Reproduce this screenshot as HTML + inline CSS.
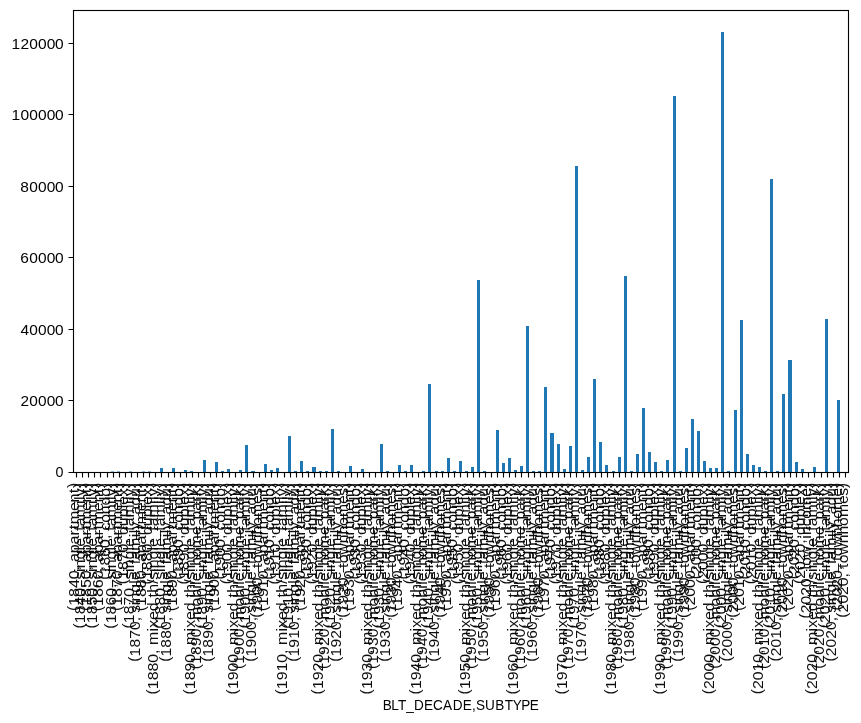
<!DOCTYPE html>
<html lang="en"><head><meta charset="utf-8"><title>BLT_DECADE,SUBTYPE bar chart</title>
<style>html,body{margin:0;padding:0;background:#fff}body{width:861px;height:723px;overflow:hidden}svg{display:block;opacity:0.999;will-change:transform}text{font-family:"Liberation Sans",sans-serif;font-size:14.60px;fill:#000;}.p{font-size:14px}</style></head><body>
<svg width="861" height="723" viewBox="0 0 861 723">
<rect x="0" y="0" width="861" height="723" fill="#fff"/>
<g fill="#1f77b4" shape-rendering="crispEdges">
<rect x="111" y="471" width="3" height="1" fill-opacity="0.5"/>
<rect x="117" y="471" width="3" height="1" fill-opacity="0.5"/>
<rect x="129" y="471" width="3" height="1" fill-opacity="0.5"/>
<rect x="142" y="471" width="3" height="1" fill-opacity="0.5"/>
<rect x="148" y="471" width="3" height="1" fill-opacity="0.5"/>
<rect x="160" y="468" width="3" height="4"/>
<rect x="172" y="468" width="3" height="4"/>
<rect x="184" y="470" width="3" height="2"/>
<rect x="190" y="471" width="3" height="1"/>
<rect x="203" y="460" width="3" height="12"/>
<rect x="215" y="462" width="3" height="10"/>
<rect x="221" y="471" width="3" height="1"/>
<rect x="227" y="469" width="3" height="3"/>
<rect x="239" y="470" width="3" height="2"/>
<rect x="245" y="445" width="3" height="27"/>
<rect x="251" y="471" width="4" height="1"/>
<rect x="264" y="464" width="3" height="8"/>
<rect x="270" y="470" width="3" height="2"/>
<rect x="276" y="468" width="3" height="4"/>
<rect x="288" y="436" width="3" height="36"/>
<rect x="294" y="471" width="3" height="1"/>
<rect x="300" y="461" width="3" height="11"/>
<rect x="306" y="471" width="3" height="1"/>
<rect x="312" y="467" width="4" height="5"/>
<rect x="319" y="471" width="3" height="1"/>
<rect x="325" y="471" width="3" height="1"/>
<rect x="331" y="429" width="3" height="43"/>
<rect x="337" y="471" width="3" height="1"/>
<rect x="349" y="466" width="3" height="6"/>
<rect x="361" y="469" width="3" height="3"/>
<rect x="380" y="444" width="3" height="28"/>
<rect x="386" y="471" width="3" height="1"/>
<rect x="398" y="465" width="3" height="7"/>
<rect x="404" y="471" width="3" height="1"/>
<rect x="410" y="465" width="3" height="7"/>
<rect x="422" y="471" width="3" height="1"/>
<rect x="428" y="384" width="3" height="88"/>
<rect x="435" y="471" width="3" height="1"/>
<rect x="441" y="471" width="3" height="1"/>
<rect x="447" y="458" width="3" height="14"/>
<rect x="453" y="471" width="3" height="1"/>
<rect x="459" y="461" width="3" height="11"/>
<rect x="465" y="471" width="3" height="1"/>
<rect x="471" y="467" width="3" height="5"/>
<rect x="477" y="280" width="3" height="192"/>
<rect x="483" y="471" width="3" height="1"/>
<rect x="496" y="430" width="3" height="42"/>
<rect x="502" y="463" width="3" height="9"/>
<rect x="508" y="458" width="3" height="14"/>
<rect x="514" y="470" width="3" height="2"/>
<rect x="520" y="466" width="3" height="6"/>
<rect x="526" y="326" width="3" height="146"/>
<rect x="532" y="471" width="3" height="1"/>
<rect x="538" y="471" width="3" height="1"/>
<rect x="544" y="387" width="3" height="85"/>
<rect x="550" y="433" width="4" height="39"/>
<rect x="557" y="444" width="3" height="28"/>
<rect x="563" y="469" width="3" height="3"/>
<rect x="569" y="446" width="3" height="26"/>
<rect x="575" y="166" width="3" height="306"/>
<rect x="581" y="470" width="3" height="2"/>
<rect x="587" y="457" width="3" height="15"/>
<rect x="593" y="379" width="3" height="93"/>
<rect x="599" y="442" width="3" height="30"/>
<rect x="605" y="465" width="3" height="7"/>
<rect x="612" y="471" width="3" height="1"/>
<rect x="618" y="457" width="3" height="15"/>
<rect x="624" y="276" width="3" height="196"/>
<rect x="630" y="471" width="3" height="1"/>
<rect x="636" y="454" width="3" height="18"/>
<rect x="642" y="408" width="3" height="64"/>
<rect x="648" y="452" width="3" height="20"/>
<rect x="654" y="462" width="3" height="10"/>
<rect x="660" y="471" width="3" height="1"/>
<rect x="666" y="460" width="3" height="12"/>
<rect x="673" y="96" width="3" height="376"/>
<rect x="679" y="471" width="3" height="1"/>
<rect x="685" y="448" width="3" height="24"/>
<rect x="691" y="419" width="3" height="53"/>
<rect x="697" y="431" width="3" height="41"/>
<rect x="703" y="461" width="3" height="11"/>
<rect x="709" y="468" width="3" height="4"/>
<rect x="715" y="468" width="3" height="4"/>
<rect x="721" y="32" width="3" height="440"/>
<rect x="727" y="471" width="3" height="1"/>
<rect x="734" y="410" width="3" height="62"/>
<rect x="740" y="320" width="3" height="152"/>
<rect x="746" y="454" width="3" height="18"/>
<rect x="752" y="465" width="3" height="7"/>
<rect x="758" y="467" width="3" height="5"/>
<rect x="764" y="471" width="3" height="1"/>
<rect x="770" y="179" width="3" height="293"/>
<rect x="776" y="471" width="3" height="1"/>
<rect x="782" y="394" width="3" height="78"/>
<rect x="788" y="360" width="4" height="112"/>
<rect x="795" y="462" width="3" height="10"/>
<rect x="801" y="469" width="3" height="3"/>
<rect x="813" y="467" width="3" height="5"/>
<rect x="825" y="319" width="3" height="153"/>
<rect x="837" y="400" width="3" height="72"/>
</g>
<g stroke="#000" stroke-width="1.11" fill="none">
<path d="M76.5 472.5V477.5M82.5 472.5V477.5M88.5 472.5V477.5M94.5 472.5V477.5M100.5 472.5V477.5M107.5 472.5V477.5M113.5 472.5V477.5M119.5 472.5V477.5M125.5 472.5V477.5M131.5 472.5V477.5M137.5 472.5V477.5M143.5 472.5V477.5M149.5 472.5V477.5M155.5 472.5V477.5M161.5 472.5V477.5M168.5 472.5V477.5M174.5 472.5V477.5M180.5 472.5V477.5M186.5 472.5V477.5M192.5 472.5V477.5M198.5 472.5V477.5M204.5 472.5V477.5M210.5 472.5V477.5M216.5 472.5V477.5M222.5 472.5V477.5M229.5 472.5V477.5M235.5 472.5V477.5M241.5 472.5V477.5M247.5 472.5V477.5M253.5 472.5V477.5M259.5 472.5V477.5M265.5 472.5V477.5M271.5 472.5V477.5M277.5 472.5V477.5M284.5 472.5V477.5M290.5 472.5V477.5M296.5 472.5V477.5M302.5 472.5V477.5M308.5 472.5V477.5M314.5 472.5V477.5M320.5 472.5V477.5M326.5 472.5V477.5M332.5 472.5V477.5M338.5 472.5V477.5M345.5 472.5V477.5M351.5 472.5V477.5M357.5 472.5V477.5M363.5 472.5V477.5M369.5 472.5V477.5M375.5 472.5V477.5M381.5 472.5V477.5M387.5 472.5V477.5M393.5 472.5V477.5M399.5 472.5V477.5M406.5 472.5V477.5M412.5 472.5V477.5M418.5 472.5V477.5M424.5 472.5V477.5M430.5 472.5V477.5M436.5 472.5V477.5M442.5 472.5V477.5M448.5 472.5V477.5M454.5 472.5V477.5M460.5 472.5V477.5M467.5 472.5V477.5M473.5 472.5V477.5M479.5 472.5V477.5M485.5 472.5V477.5M491.5 472.5V477.5M497.5 472.5V477.5M503.5 472.5V477.5M509.5 472.5V477.5M515.5 472.5V477.5M521.5 472.5V477.5M528.5 472.5V477.5M534.5 472.5V477.5M540.5 472.5V477.5M546.5 472.5V477.5M552.5 472.5V477.5M558.5 472.5V477.5M564.5 472.5V477.5M570.5 472.5V477.5M576.5 472.5V477.5M583.5 472.5V477.5M589.5 472.5V477.5M595.5 472.5V477.5M601.5 472.5V477.5M607.5 472.5V477.5M613.5 472.5V477.5M619.5 472.5V477.5M625.5 472.5V477.5M631.5 472.5V477.5M637.5 472.5V477.5M644.5 472.5V477.5M650.5 472.5V477.5M656.5 472.5V477.5M662.5 472.5V477.5M668.5 472.5V477.5M674.5 472.5V477.5M680.5 472.5V477.5M686.5 472.5V477.5M692.5 472.5V477.5M698.5 472.5V477.5M705.5 472.5V477.5M711.5 472.5V477.5M717.5 472.5V477.5M723.5 472.5V477.5M729.5 472.5V477.5M735.5 472.5V477.5M741.5 472.5V477.5M747.5 472.5V477.5M753.5 472.5V477.5M759.5 472.5V477.5M766.5 472.5V477.5M772.5 472.5V477.5M778.5 472.5V477.5M784.5 472.5V477.5M790.5 472.5V477.5M796.5 472.5V477.5M802.5 472.5V477.5M808.5 472.5V477.5M814.5 472.5V477.5M821.5 472.5V477.5M827.5 472.5V477.5M833.5 472.5V477.5M839.5 472.5V477.5M845.5 472.5V477.5"/>
<path d="M73.5 472.5H68.5M73.5 400.5H68.5M73.5 329.5H68.5M73.5 257.5H68.5M73.5 186.5H68.5M73.5 114.5H68.5M73.5 43.5H68.5"/>
<rect x="73.5" y="10.5" width="775.0" height="462.0"/>
</g>
<g>
<text transform="translate(55.38,477.00) scale(0.979,1)" x="0.00">0</text>
<text transform="translate(20.38,406.00) scale(1.058,1)" x="0.08 8.35 16.62 24.89 32.78">20000</text>
<text transform="translate(20.38,335.00) scale(1.058,1)" x="0.08 8.35 16.62 24.89 32.78">40000</text>
<text transform="translate(20.25,263.00) scale(1.061,1)" x="0.12 8.43 16.68 24.92 32.79">60000</text>
<text transform="translate(20.25,192.00) scale(1.061,1)" x="0.12 8.43 16.68 24.92 32.79">80000</text>
<text transform="translate(11.50,120.00) scale(1.064,1)" x="0.11 8.40 16.62 24.85 33.07 40.92">100000</text>
<text transform="translate(11.50,49.00) scale(1.064,1)" x="0.11 8.40 16.62 24.85 33.07 40.92">120000</text>
</g>
<g fill-opacity="0.94">
<text transform="translate(79.00,611.22) rotate(-90) scale(1.107,1.000)" x="0.15 4.91 12.93 20.89 28.79 36.75 40.70 44.54 52.44 60.34 68.46 73.95 78.47 90.43 98.22 106.69 111.29"><tspan class="p" dy="-1.10">(</tspan><tspan dy="1.10">1840, apartment</tspan><tspan class="p" dy="-1.10">)</tspan></text>
<text transform="translate(85.00,628.72) rotate(-90) scale(1.084,1.000)" x="0.21 5.11 13.30 21.43 29.50 37.59 41.62 45.31 52.41 55.80 63.93 72.25 75.52 82.67 90.24 94.49 102.68 115.15 118.73 122.29 129.90"><tspan class="p" dy="-1.10">(</tspan><tspan dy="1.10">1840, single_family</tspan><tspan class="p" dy="-1.10">)</tspan></text>
<text transform="translate(91.00,611.22) rotate(-90) scale(1.107,1.000)" x="0.15 4.91 12.93 20.89 28.79 36.75 40.70 44.54 52.44 60.34 68.46 73.95 78.47 90.43 98.22 106.69 111.29"><tspan class="p" dy="-1.10">(</tspan><tspan dy="1.10">1850, apartment</tspan><tspan class="p" dy="-1.10">)</tspan></text>
<text transform="translate(97.00,628.72) rotate(-90) scale(1.084,1.000)" x="0.21 5.11 13.30 21.43 29.50 37.59 41.62 45.31 52.41 55.80 63.93 72.25 75.52 82.67 90.24 94.49 102.68 115.15 118.73 122.29 129.90"><tspan class="p" dy="-1.10">(</tspan><tspan dy="1.10">1850, single_family</tspan><tspan class="p" dy="-1.10">)</tspan></text>
<text transform="translate(103.00,611.35) rotate(-90) scale(1.108,1.000)" x="0.15 4.91 12.91 20.92 28.87 36.82 40.77 44.61 52.50 60.39 68.51 73.99 78.50 90.45 98.23 106.69 111.30"><tspan class="p" dy="-1.10">(</tspan><tspan dy="1.10">1860, apartment</tspan><tspan class="p" dy="-1.10">)</tspan></text>
<text transform="translate(110.00,579.97) rotate(-90) scale(1.079,1.000)" x="0.22 5.15 13.37 21.59 29.75 37.87 41.92 45.86 52.92 60.91 69.07 77.12 85.27"><tspan class="p" dy="-1.10">(</tspan><tspan dy="1.10">1860, condo</tspan><tspan class="p" dy="-1.10">)</tspan></text>
<text transform="translate(116.00,628.85) rotate(-90) scale(1.085,1.000)" x="0.20 5.10 13.28 21.46 29.59 37.67 41.70 45.38 52.48 55.86 63.99 72.30 75.57 82.71 90.27 94.52 102.70 115.17 118.74 122.30 129.90"><tspan class="p" dy="-1.10">(</tspan><tspan dy="1.10">1860, single_family</tspan><tspan class="p" dy="-1.10">)</tspan></text>
<text transform="translate(122.00,611.22) rotate(-90) scale(1.107,1.000)" x="0.15 4.91 12.93 20.89 28.79 36.75 40.70 44.54 52.44 60.34 68.46 73.95 78.47 90.43 98.22 106.69 111.29"><tspan class="p" dy="-1.10">(</tspan><tspan dy="1.10">1870, apartment</tspan><tspan class="p" dy="-1.10">)</tspan></text>
<text transform="translate(128.00,584.47) rotate(-90) scale(1.090,1.000)" x="0.19 5.06 13.20 21.28 29.31 37.36 41.37 45.42 53.50 61.59 69.87 73.00 80.97 88.54"><tspan class="p" dy="-1.10">(</tspan><tspan dy="1.10">1870, duplex</tspan><tspan class="p" dy="-1.10">)</tspan></text>
<text transform="translate(134.00,628.72) rotate(-90) scale(1.084,1.000)" x="0.21 5.11 13.30 21.43 29.50 37.59 41.62 45.31 52.41 55.80 63.93 72.25 75.52 82.67 90.24 94.49 102.68 115.15 118.73 122.29 129.90"><tspan class="p" dy="-1.10">(</tspan><tspan dy="1.10">1870, single_family</tspan><tspan class="p" dy="-1.10">)</tspan></text>
<text transform="translate(140.00,661.97) rotate(-90) scale(1.072,1.000)" x="0.23 5.21 13.49 21.71 29.87 38.02 42.10 45.84 53.00 56.45 64.67 73.05 76.39 83.61 91.24 95.56 103.86 116.42 120.04 123.66 130.37 137.65 145.81 154.03 162.35"><tspan class="p" dy="-1.10">(</tspan><tspan dy="1.10">1870, single_family_adu</tspan><tspan class="p" dy="-1.10">)</tspan></text>
<text transform="translate(146.00,611.35) rotate(-90) scale(1.108,1.000)" x="0.15 4.91 12.91 20.92 28.87 36.82 40.77 44.61 52.50 60.39 68.51 73.99 78.50 90.45 98.23 106.69 111.30"><tspan class="p" dy="-1.10">(</tspan><tspan dy="1.10">1880, apartment</tspan><tspan class="p" dy="-1.10">)</tspan></text>
<text transform="translate(152.00,584.60) rotate(-90) scale(1.091,1.000)" x="0.19 5.04 13.18 21.31 29.38 37.43 41.43 45.47 53.55 61.62 69.90 73.02 80.98 88.55"><tspan class="p" dy="-1.10">(</tspan><tspan dy="1.10">1880, duplex</tspan><tspan class="p" dy="-1.10">)</tspan></text>
<text transform="translate(158.00,694.72) rotate(-90) scale(1.093,1.000)" x="0.18 5.03 13.15 21.27 29.33 37.37 41.37 45.49 57.90 61.25 68.33 76.27 84.37 88.88 93.37 101.52 105.27 112.33 115.67 123.73 132.00 135.22 142.31 149.83 154.03 162.13 174.54 178.08 181.60 189.15"><tspan class="p" dy="-1.10">(</tspan><tspan dy="1.10">1880, mixed th/single_family</tspan><tspan class="p" dy="-1.10">)</tspan></text>
<text transform="translate(165.00,628.85) rotate(-90) scale(1.085,1.000)" x="0.20 5.10 13.28 21.46 29.59 37.67 41.70 45.38 52.48 55.86 63.99 72.30 75.57 82.71 90.27 94.52 102.70 115.17 118.74 122.30 129.90"><tspan class="p" dy="-1.10">(</tspan><tspan dy="1.10">1880, single_family</tspan><tspan class="p" dy="-1.10">)</tspan></text>
<text transform="translate(171.00,662.10) rotate(-90) scale(1.073,1.000)" x="0.23 5.20 13.47 21.75 29.96 38.11 42.19 45.92 53.08 56.52 64.74 73.12 76.45 83.67 91.29 95.61 103.90 116.46 120.07 123.69 130.39 137.67 145.83 154.04 162.35"><tspan class="p" dy="-1.10">(</tspan><tspan dy="1.10">1880, single_family_adu</tspan><tspan class="p" dy="-1.10">)</tspan></text>
<text transform="translate(177.00,611.35) rotate(-90) scale(1.108,1.000)" x="0.15 4.91 12.91 20.92 28.87 36.82 40.77 44.61 52.50 60.39 68.51 73.99 78.50 90.45 98.23 106.69 111.30"><tspan class="p" dy="-1.10">(</tspan><tspan dy="1.10">1890, apartment</tspan><tspan class="p" dy="-1.10">)</tspan></text>
<text transform="translate(183.00,579.97) rotate(-90) scale(1.079,1.000)" x="0.22 5.15 13.37 21.59 29.75 37.87 41.92 45.86 52.92 60.91 69.07 77.12 85.27"><tspan class="p" dy="-1.10">(</tspan><tspan dy="1.10">1890, condo</tspan><tspan class="p" dy="-1.10">)</tspan></text>
<text transform="translate(189.00,584.60) rotate(-90) scale(1.091,1.000)" x="0.19 5.04 13.18 21.31 29.38 37.43 41.43 45.47 53.55 61.62 69.90 73.02 80.98 88.55"><tspan class="p" dy="-1.10">(</tspan><tspan dy="1.10">1890, duplex</tspan><tspan class="p" dy="-1.10">)</tspan></text>
<text transform="translate(195.00,694.72) rotate(-90) scale(1.093,1.000)" x="0.18 5.03 13.15 21.27 29.33 37.37 41.37 45.49 57.90 61.25 68.33 76.27 84.37 88.88 93.37 101.52 105.27 112.33 115.67 123.73 132.00 135.22 142.31 149.83 154.03 162.13 174.54 178.08 181.60 189.15"><tspan class="p" dy="-1.10">(</tspan><tspan dy="1.10">1890, mixed th/single_family</tspan><tspan class="p" dy="-1.10">)</tspan></text>
<text transform="translate(201.00,669.47) rotate(-90) scale(1.070,1.000)" x="0.24 5.23 13.52 21.81 30.04 38.21 42.29 46.59 58.89 67.01 75.40 79.02 82.37 89.61 96.97 105.02 113.28 125.58 132.82 140.24 148.41 156.76 162.02 169.65"><tspan class="p" dy="-1.10">(</tspan><tspan dy="1.10">1890, mobile_home_park</tspan><tspan class="p" dy="-1.10">)</tspan></text>
<text transform="translate(207.00,628.85) rotate(-90) scale(1.085,1.000)" x="0.20 5.10 13.28 21.46 29.59 37.67 41.70 45.38 52.48 55.86 63.99 72.30 75.57 82.71 90.27 94.52 102.70 115.17 118.74 122.30 129.90"><tspan class="p" dy="-1.10">(</tspan><tspan dy="1.10">1890, single_family</tspan><tspan class="p" dy="-1.10">)</tspan></text>
<text transform="translate(213.00,662.10) rotate(-90) scale(1.073,1.000)" x="0.23 5.20 13.47 21.75 29.96 38.11 42.19 45.92 53.08 56.52 64.74 73.12 76.45 83.67 91.29 95.61 103.90 116.46 120.07 123.69 130.39 137.67 145.83 154.04 162.35"><tspan class="p" dy="-1.10">(</tspan><tspan dy="1.10">1890, single_family_adu</tspan><tspan class="p" dy="-1.10">)</tspan></text>
<text transform="translate(219.00,611.22) rotate(-90) scale(1.107,1.000)" x="0.15 4.91 12.93 20.89 28.79 36.75 40.70 44.54 52.44 60.34 68.46 73.95 78.47 90.43 98.22 106.69 111.29"><tspan class="p" dy="-1.10">(</tspan><tspan dy="1.10">1900, apartment</tspan><tspan class="p" dy="-1.10">)</tspan></text>
<text transform="translate(225.00,579.85) rotate(-90) scale(1.078,1.000)" x="0.22 5.16 13.39 21.57 29.68 37.80 41.86 45.80 52.87 60.87 69.05 77.11 85.27"><tspan class="p" dy="-1.10">(</tspan><tspan dy="1.10">1900, condo</tspan><tspan class="p" dy="-1.10">)</tspan></text>
<text transform="translate(232.00,584.47) rotate(-90) scale(1.090,1.000)" x="0.19 5.06 13.20 21.28 29.31 37.36 41.37 45.42 53.50 61.59 69.87 73.00 80.97 88.54"><tspan class="p" dy="-1.10">(</tspan><tspan dy="1.10">1900, duplex</tspan><tspan class="p" dy="-1.10">)</tspan></text>
<text transform="translate(238.00,694.60) rotate(-90) scale(1.092,1.000)" x="0.19 5.04 13.16 21.23 29.24 37.28 41.28 45.41 57.82 61.17 68.25 76.21 84.30 88.82 93.31 101.46 105.22 112.28 115.62 123.69 131.96 135.19 142.28 149.81 154.01 162.12 174.53 178.07 181.60 189.15"><tspan class="p" dy="-1.10">(</tspan><tspan dy="1.10">1900, mixed th/single_family</tspan><tspan class="p" dy="-1.10">)</tspan></text>
<text transform="translate(244.00,669.35) rotate(-90) scale(1.070,1.000)" x="0.24 5.23 13.53 21.77 29.95 38.12 42.21 46.51 58.82 66.94 75.34 78.96 82.31 89.55 96.92 104.98 113.24 125.55 132.80 140.22 148.40 156.75 162.01 169.64"><tspan class="p" dy="-1.10">(</tspan><tspan dy="1.10">1900, mobile_home_park</tspan><tspan class="p" dy="-1.10">)</tspan></text>
<text transform="translate(250.00,628.72) rotate(-90) scale(1.084,1.000)" x="0.21 5.11 13.30 21.43 29.50 37.59 41.62 45.31 52.41 55.80 63.93 72.25 75.52 82.67 90.24 94.49 102.68 115.15 118.73 122.29 129.90"><tspan class="p" dy="-1.10">(</tspan><tspan dy="1.10">1900, single_family</tspan><tspan class="p" dy="-1.10">)</tspan></text>
<text transform="translate(256.00,661.97) rotate(-90) scale(1.072,1.000)" x="0.23 5.21 13.49 21.71 29.87 38.02 42.10 45.84 53.00 56.45 64.67 73.05 76.39 83.61 91.24 95.56 103.86 116.42 120.04 123.66 130.37 137.65 145.81 154.03 162.35"><tspan class="p" dy="-1.10">(</tspan><tspan dy="1.10">1900, single_family_adu</tspan><tspan class="p" dy="-1.10">)</tspan></text>
<text transform="translate(262.00,618.10) rotate(-90) scale(1.083,1.000)" x="0.21 5.11 13.31 21.44 29.52 37.61 41.65 46.21 50.64 58.60 69.10 77.18 85.14 93.28 105.45 113.08 120.16"><tspan class="p" dy="-1.10">(</tspan><tspan dy="1.10">1900, townhomes</tspan><tspan class="p" dy="-1.10">)</tspan></text>
<text transform="translate(268.00,611.35) rotate(-90) scale(1.108,1.000)" x="0.15 4.91 12.91 20.92 28.87 36.82 40.77 44.61 52.50 60.39 68.51 73.99 78.50 90.45 98.23 106.69 111.30"><tspan class="p" dy="-1.10">(</tspan><tspan dy="1.10">1910, apartment</tspan><tspan class="p" dy="-1.10">)</tspan></text>
<text transform="translate(274.00,579.97) rotate(-90) scale(1.079,1.000)" x="0.22 5.15 13.37 21.59 29.75 37.87 41.92 45.86 52.92 60.91 69.07 77.12 85.27"><tspan class="p" dy="-1.10">(</tspan><tspan dy="1.10">1910, condo</tspan><tspan class="p" dy="-1.10">)</tspan></text>
<text transform="translate(280.00,584.60) rotate(-90) scale(1.091,1.000)" x="0.19 5.04 13.18 21.31 29.38 37.43 41.43 45.47 53.55 61.62 69.90 73.02 80.98 88.55"><tspan class="p" dy="-1.10">(</tspan><tspan dy="1.10">1910, duplex</tspan><tspan class="p" dy="-1.10">)</tspan></text>
<text transform="translate(287.00,694.72) rotate(-90) scale(1.093,1.000)" x="0.18 5.03 13.15 21.27 29.33 37.37 41.37 45.49 57.90 61.25 68.33 76.27 84.37 88.88 93.37 101.52 105.27 112.33 115.67 123.73 132.00 135.22 142.31 149.83 154.03 162.13 174.54 178.08 181.60 189.15"><tspan class="p" dy="-1.10">(</tspan><tspan dy="1.10">1910, mixed th/single_family</tspan><tspan class="p" dy="-1.10">)</tspan></text>
<text transform="translate(293.00,628.85) rotate(-90) scale(1.085,1.000)" x="0.20 5.10 13.28 21.46 29.59 37.67 41.70 45.38 52.48 55.86 63.99 72.30 75.57 82.71 90.27 94.52 102.70 115.17 118.74 122.30 129.90"><tspan class="p" dy="-1.10">(</tspan><tspan dy="1.10">1910, single_family</tspan><tspan class="p" dy="-1.10">)</tspan></text>
<text transform="translate(299.00,662.10) rotate(-90) scale(1.073,1.000)" x="0.23 5.20 13.47 21.75 29.96 38.11 42.19 45.92 53.08 56.52 64.74 73.12 76.45 83.67 91.29 95.61 103.90 116.46 120.07 123.69 130.39 137.67 145.83 154.04 162.35"><tspan class="p" dy="-1.10">(</tspan><tspan dy="1.10">1910, single_family_adu</tspan><tspan class="p" dy="-1.10">)</tspan></text>
<text transform="translate(305.00,611.22) rotate(-90) scale(1.107,1.000)" x="0.15 4.91 12.93 20.89 28.79 36.75 40.70 44.54 52.44 60.34 68.46 73.95 78.47 90.43 98.22 106.69 111.29"><tspan class="p" dy="-1.10">(</tspan><tspan dy="1.10">1920, apartment</tspan><tspan class="p" dy="-1.10">)</tspan></text>
<text transform="translate(311.00,579.85) rotate(-90) scale(1.078,1.000)" x="0.22 5.16 13.39 21.57 29.68 37.80 41.86 45.80 52.87 60.87 69.05 77.11 85.27"><tspan class="p" dy="-1.10">(</tspan><tspan dy="1.10">1920, condo</tspan><tspan class="p" dy="-1.10">)</tspan></text>
<text transform="translate(317.00,584.47) rotate(-90) scale(1.090,1.000)" x="0.19 5.06 13.20 21.28 29.31 37.36 41.37 45.42 53.50 61.59 69.87 73.00 80.97 88.54"><tspan class="p" dy="-1.10">(</tspan><tspan dy="1.10">1920, duplex</tspan><tspan class="p" dy="-1.10">)</tspan></text>
<text transform="translate(323.00,694.60) rotate(-90) scale(1.092,1.000)" x="0.19 5.04 13.16 21.23 29.24 37.28 41.28 45.41 57.82 61.17 68.25 76.21 84.30 88.82 93.31 101.46 105.22 112.28 115.62 123.69 131.96 135.19 142.28 149.81 154.01 162.12 174.53 178.07 181.60 189.15"><tspan class="p" dy="-1.10">(</tspan><tspan dy="1.10">1920, mixed th/single_family</tspan><tspan class="p" dy="-1.10">)</tspan></text>
<text transform="translate(329.00,669.35) rotate(-90) scale(1.070,1.000)" x="0.24 5.23 13.53 21.77 29.95 38.12 42.21 46.51 58.82 66.94 75.34 78.96 82.31 89.55 96.92 104.98 113.24 125.55 132.80 140.22 148.40 156.75 162.01 169.64"><tspan class="p" dy="-1.10">(</tspan><tspan dy="1.10">1920, mobile_home_park</tspan><tspan class="p" dy="-1.10">)</tspan></text>
<text transform="translate(335.00,628.72) rotate(-90) scale(1.084,1.000)" x="0.21 5.11 13.30 21.43 29.50 37.59 41.62 45.31 52.41 55.80 63.93 72.25 75.52 82.67 90.24 94.49 102.68 115.15 118.73 122.29 129.90"><tspan class="p" dy="-1.10">(</tspan><tspan dy="1.10">1920, single_family</tspan><tspan class="p" dy="-1.10">)</tspan></text>
<text transform="translate(341.00,661.97) rotate(-90) scale(1.072,1.000)" x="0.23 5.21 13.49 21.71 29.87 38.02 42.10 45.84 53.00 56.45 64.67 73.05 76.39 83.61 91.24 95.56 103.86 116.42 120.04 123.66 130.37 137.65 145.81 154.03 162.35"><tspan class="p" dy="-1.10">(</tspan><tspan dy="1.10">1920, single_family_adu</tspan><tspan class="p" dy="-1.10">)</tspan></text>
<text transform="translate(348.00,618.10) rotate(-90) scale(1.083,1.000)" x="0.21 5.11 13.31 21.44 29.52 37.61 41.65 46.21 50.64 58.60 69.10 77.18 85.14 93.28 105.45 113.08 120.16"><tspan class="p" dy="-1.10">(</tspan><tspan dy="1.10">1920, townhomes</tspan><tspan class="p" dy="-1.10">)</tspan></text>
<text transform="translate(354.00,611.22) rotate(-90) scale(1.107,1.000)" x="0.15 4.91 12.93 20.89 28.79 36.75 40.70 44.54 52.44 60.34 68.46 73.95 78.47 90.43 98.22 106.69 111.29"><tspan class="p" dy="-1.10">(</tspan><tspan dy="1.10">1930, apartment</tspan><tspan class="p" dy="-1.10">)</tspan></text>
<text transform="translate(360.00,579.85) rotate(-90) scale(1.078,1.000)" x="0.22 5.16 13.39 21.57 29.68 37.80 41.86 45.80 52.87 60.87 69.05 77.11 85.27"><tspan class="p" dy="-1.10">(</tspan><tspan dy="1.10">1930, condo</tspan><tspan class="p" dy="-1.10">)</tspan></text>
<text transform="translate(366.00,584.47) rotate(-90) scale(1.090,1.000)" x="0.19 5.06 13.20 21.28 29.31 37.36 41.37 45.42 53.50 61.59 69.87 73.00 80.97 88.54"><tspan class="p" dy="-1.10">(</tspan><tspan dy="1.10">1930, duplex</tspan><tspan class="p" dy="-1.10">)</tspan></text>
<text transform="translate(372.00,694.60) rotate(-90) scale(1.092,1.000)" x="0.19 5.04 13.16 21.23 29.24 37.28 41.28 45.41 57.82 61.17 68.25 76.21 84.30 88.82 93.31 101.46 105.22 112.28 115.62 123.69 131.96 135.19 142.28 149.81 154.01 162.12 174.53 178.07 181.60 189.15"><tspan class="p" dy="-1.10">(</tspan><tspan dy="1.10">1930, mixed th/single_family</tspan><tspan class="p" dy="-1.10">)</tspan></text>
<text transform="translate(378.00,669.35) rotate(-90) scale(1.070,1.000)" x="0.24 5.23 13.53 21.77 29.95 38.12 42.21 46.51 58.82 66.94 75.34 78.96 82.31 89.55 96.92 104.98 113.24 125.55 132.80 140.22 148.40 156.75 162.01 169.64"><tspan class="p" dy="-1.10">(</tspan><tspan dy="1.10">1930, mobile_home_park</tspan><tspan class="p" dy="-1.10">)</tspan></text>
<text transform="translate(384.00,628.72) rotate(-90) scale(1.084,1.000)" x="0.21 5.11 13.30 21.43 29.50 37.59 41.62 45.31 52.41 55.80 63.93 72.25 75.52 82.67 90.24 94.49 102.68 115.15 118.73 122.29 129.90"><tspan class="p" dy="-1.10">(</tspan><tspan dy="1.10">1930, single_family</tspan><tspan class="p" dy="-1.10">)</tspan></text>
<text transform="translate(390.00,661.97) rotate(-90) scale(1.072,1.000)" x="0.23 5.21 13.49 21.71 29.87 38.02 42.10 45.84 53.00 56.45 64.67 73.05 76.39 83.61 91.24 95.56 103.86 116.42 120.04 123.66 130.37 137.65 145.81 154.03 162.35"><tspan class="p" dy="-1.10">(</tspan><tspan dy="1.10">1930, single_family_adu</tspan><tspan class="p" dy="-1.10">)</tspan></text>
<text transform="translate(396.00,618.10) rotate(-90) scale(1.083,1.000)" x="0.21 5.11 13.31 21.44 29.52 37.61 41.65 46.21 50.64 58.60 69.10 77.18 85.14 93.28 105.45 113.08 120.16"><tspan class="p" dy="-1.10">(</tspan><tspan dy="1.10">1930, townhomes</tspan><tspan class="p" dy="-1.10">)</tspan></text>
<text transform="translate(402.00,611.22) rotate(-90) scale(1.107,1.000)" x="0.15 4.91 12.93 20.89 28.79 36.75 40.70 44.54 52.44 60.34 68.46 73.95 78.47 90.43 98.22 106.69 111.29"><tspan class="p" dy="-1.10">(</tspan><tspan dy="1.10">1940, apartment</tspan><tspan class="p" dy="-1.10">)</tspan></text>
<text transform="translate(409.00,579.85) rotate(-90) scale(1.078,1.000)" x="0.22 5.16 13.39 21.57 29.68 37.80 41.86 45.80 52.87 60.87 69.05 77.11 85.27"><tspan class="p" dy="-1.10">(</tspan><tspan dy="1.10">1940, condo</tspan><tspan class="p" dy="-1.10">)</tspan></text>
<text transform="translate(415.00,584.47) rotate(-90) scale(1.090,1.000)" x="0.19 5.06 13.20 21.28 29.31 37.36 41.37 45.42 53.50 61.59 69.87 73.00 80.97 88.54"><tspan class="p" dy="-1.10">(</tspan><tspan dy="1.10">1940, duplex</tspan><tspan class="p" dy="-1.10">)</tspan></text>
<text transform="translate(421.00,694.60) rotate(-90) scale(1.092,1.000)" x="0.19 5.04 13.16 21.23 29.24 37.28 41.28 45.41 57.82 61.17 68.25 76.21 84.30 88.82 93.31 101.46 105.22 112.28 115.62 123.69 131.96 135.19 142.28 149.81 154.01 162.12 174.53 178.07 181.60 189.15"><tspan class="p" dy="-1.10">(</tspan><tspan dy="1.10">1940, mixed th/single_family</tspan><tspan class="p" dy="-1.10">)</tspan></text>
<text transform="translate(427.00,669.35) rotate(-90) scale(1.070,1.000)" x="0.24 5.23 13.53 21.77 29.95 38.12 42.21 46.51 58.82 66.94 75.34 78.96 82.31 89.55 96.92 104.98 113.24 125.55 132.80 140.22 148.40 156.75 162.01 169.64"><tspan class="p" dy="-1.10">(</tspan><tspan dy="1.10">1940, mobile_home_park</tspan><tspan class="p" dy="-1.10">)</tspan></text>
<text transform="translate(433.00,628.72) rotate(-90) scale(1.084,1.000)" x="0.21 5.11 13.30 21.43 29.50 37.59 41.62 45.31 52.41 55.80 63.93 72.25 75.52 82.67 90.24 94.49 102.68 115.15 118.73 122.29 129.90"><tspan class="p" dy="-1.10">(</tspan><tspan dy="1.10">1940, single_family</tspan><tspan class="p" dy="-1.10">)</tspan></text>
<text transform="translate(439.00,661.97) rotate(-90) scale(1.072,1.000)" x="0.23 5.21 13.49 21.71 29.87 38.02 42.10 45.84 53.00 56.45 64.67 73.05 76.39 83.61 91.24 95.56 103.86 116.42 120.04 123.66 130.37 137.65 145.81 154.03 162.35"><tspan class="p" dy="-1.10">(</tspan><tspan dy="1.10">1940, single_family_adu</tspan><tspan class="p" dy="-1.10">)</tspan></text>
<text transform="translate(445.00,618.10) rotate(-90) scale(1.083,1.000)" x="0.21 5.11 13.31 21.44 29.52 37.61 41.65 46.21 50.64 58.60 69.10 77.18 85.14 93.28 105.45 113.08 120.16"><tspan class="p" dy="-1.10">(</tspan><tspan dy="1.10">1940, townhomes</tspan><tspan class="p" dy="-1.10">)</tspan></text>
<text transform="translate(451.00,611.22) rotate(-90) scale(1.107,1.000)" x="0.15 4.91 12.93 20.89 28.79 36.75 40.70 44.54 52.44 60.34 68.46 73.95 78.47 90.43 98.22 106.69 111.29"><tspan class="p" dy="-1.10">(</tspan><tspan dy="1.10">1950, apartment</tspan><tspan class="p" dy="-1.10">)</tspan></text>
<text transform="translate(457.00,579.85) rotate(-90) scale(1.078,1.000)" x="0.22 5.16 13.39 21.57 29.68 37.80 41.86 45.80 52.87 60.87 69.05 77.11 85.27"><tspan class="p" dy="-1.10">(</tspan><tspan dy="1.10">1950, condo</tspan><tspan class="p" dy="-1.10">)</tspan></text>
<text transform="translate(463.00,584.47) rotate(-90) scale(1.090,1.000)" x="0.19 5.06 13.20 21.28 29.31 37.36 41.37 45.42 53.50 61.59 69.87 73.00 80.97 88.54"><tspan class="p" dy="-1.10">(</tspan><tspan dy="1.10">1950, duplex</tspan><tspan class="p" dy="-1.10">)</tspan></text>
<text transform="translate(470.00,694.60) rotate(-90) scale(1.092,1.000)" x="0.19 5.04 13.16 21.23 29.24 37.28 41.28 45.41 57.82 61.17 68.25 76.21 84.30 88.82 93.31 101.46 105.22 112.28 115.62 123.69 131.96 135.19 142.28 149.81 154.01 162.12 174.53 178.07 181.60 189.15"><tspan class="p" dy="-1.10">(</tspan><tspan dy="1.10">1950, mixed th/single_family</tspan><tspan class="p" dy="-1.10">)</tspan></text>
<text transform="translate(476.00,669.35) rotate(-90) scale(1.070,1.000)" x="0.24 5.23 13.53 21.77 29.95 38.12 42.21 46.51 58.82 66.94 75.34 78.96 82.31 89.55 96.92 104.98 113.24 125.55 132.80 140.22 148.40 156.75 162.01 169.64"><tspan class="p" dy="-1.10">(</tspan><tspan dy="1.10">1950, mobile_home_park</tspan><tspan class="p" dy="-1.10">)</tspan></text>
<text transform="translate(482.00,628.72) rotate(-90) scale(1.084,1.000)" x="0.21 5.11 13.30 21.43 29.50 37.59 41.62 45.31 52.41 55.80 63.93 72.25 75.52 82.67 90.24 94.49 102.68 115.15 118.73 122.29 129.90"><tspan class="p" dy="-1.10">(</tspan><tspan dy="1.10">1950, single_family</tspan><tspan class="p" dy="-1.10">)</tspan></text>
<text transform="translate(488.00,661.97) rotate(-90) scale(1.072,1.000)" x="0.23 5.21 13.49 21.71 29.87 38.02 42.10 45.84 53.00 56.45 64.67 73.05 76.39 83.61 91.24 95.56 103.86 116.42 120.04 123.66 130.37 137.65 145.81 154.03 162.35"><tspan class="p" dy="-1.10">(</tspan><tspan dy="1.10">1950, single_family_adu</tspan><tspan class="p" dy="-1.10">)</tspan></text>
<text transform="translate(494.00,618.10) rotate(-90) scale(1.083,1.000)" x="0.21 5.11 13.31 21.44 29.52 37.61 41.65 46.21 50.64 58.60 69.10 77.18 85.14 93.28 105.45 113.08 120.16"><tspan class="p" dy="-1.10">(</tspan><tspan dy="1.10">1950, townhomes</tspan><tspan class="p" dy="-1.10">)</tspan></text>
<text transform="translate(500.00,611.35) rotate(-90) scale(1.108,1.000)" x="0.15 4.91 12.91 20.92 28.87 36.82 40.77 44.61 52.50 60.39 68.51 73.99 78.50 90.45 98.23 106.69 111.30"><tspan class="p" dy="-1.10">(</tspan><tspan dy="1.10">1960, apartment</tspan><tspan class="p" dy="-1.10">)</tspan></text>
<text transform="translate(506.00,579.97) rotate(-90) scale(1.079,1.000)" x="0.22 5.15 13.37 21.59 29.75 37.87 41.92 45.86 52.92 60.91 69.07 77.12 85.27"><tspan class="p" dy="-1.10">(</tspan><tspan dy="1.10">1960, condo</tspan><tspan class="p" dy="-1.10">)</tspan></text>
<text transform="translate(512.00,584.60) rotate(-90) scale(1.091,1.000)" x="0.19 5.04 13.18 21.31 29.38 37.43 41.43 45.47 53.55 61.62 69.90 73.02 80.98 88.55"><tspan class="p" dy="-1.10">(</tspan><tspan dy="1.10">1960, duplex</tspan><tspan class="p" dy="-1.10">)</tspan></text>
<text transform="translate(518.00,694.72) rotate(-90) scale(1.093,1.000)" x="0.18 5.03 13.15 21.27 29.33 37.37 41.37 45.49 57.90 61.25 68.33 76.27 84.37 88.88 93.37 101.52 105.27 112.33 115.67 123.73 132.00 135.22 142.31 149.83 154.03 162.13 174.54 178.08 181.60 189.15"><tspan class="p" dy="-1.10">(</tspan><tspan dy="1.10">1960, mixed th/single_family</tspan><tspan class="p" dy="-1.10">)</tspan></text>
<text transform="translate(525.00,669.47) rotate(-90) scale(1.070,1.000)" x="0.24 5.23 13.52 21.81 30.04 38.21 42.29 46.59 58.89 67.01 75.40 79.02 82.37 89.61 96.97 105.02 113.28 125.58 132.82 140.24 148.41 156.76 162.02 169.65"><tspan class="p" dy="-1.10">(</tspan><tspan dy="1.10">1960, mobile_home_park</tspan><tspan class="p" dy="-1.10">)</tspan></text>
<text transform="translate(531.00,628.85) rotate(-90) scale(1.085,1.000)" x="0.20 5.10 13.28 21.46 29.59 37.67 41.70 45.38 52.48 55.86 63.99 72.30 75.57 82.71 90.27 94.52 102.70 115.17 118.74 122.30 129.90"><tspan class="p" dy="-1.10">(</tspan><tspan dy="1.10">1960, single_family</tspan><tspan class="p" dy="-1.10">)</tspan></text>
<text transform="translate(537.00,662.10) rotate(-90) scale(1.073,1.000)" x="0.23 5.20 13.47 21.75 29.96 38.11 42.19 45.92 53.08 56.52 64.74 73.12 76.45 83.67 91.29 95.61 103.90 116.46 120.07 123.69 130.39 137.67 145.83 154.04 162.35"><tspan class="p" dy="-1.10">(</tspan><tspan dy="1.10">1960, single_family_adu</tspan><tspan class="p" dy="-1.10">)</tspan></text>
<text transform="translate(543.00,618.22) rotate(-90) scale(1.084,1.000)" x="0.21 5.11 13.29 21.48 29.61 37.69 41.73 46.28 50.70 58.66 69.15 77.22 85.18 93.30 105.47 113.08 120.17"><tspan class="p" dy="-1.10">(</tspan><tspan dy="1.10">1960, townhomes</tspan><tspan class="p" dy="-1.10">)</tspan></text>
<text transform="translate(549.00,611.22) rotate(-90) scale(1.107,1.000)" x="0.15 4.91 12.93 20.89 28.79 36.75 40.70 44.54 52.44 60.34 68.46 73.95 78.47 90.43 98.22 106.69 111.29"><tspan class="p" dy="-1.10">(</tspan><tspan dy="1.10">1970, apartment</tspan><tspan class="p" dy="-1.10">)</tspan></text>
<text transform="translate(555.00,579.85) rotate(-90) scale(1.078,1.000)" x="0.22 5.16 13.39 21.57 29.68 37.80 41.86 45.80 52.87 60.87 69.05 77.11 85.27"><tspan class="p" dy="-1.10">(</tspan><tspan dy="1.10">1970, condo</tspan><tspan class="p" dy="-1.10">)</tspan></text>
<text transform="translate(561.00,584.47) rotate(-90) scale(1.090,1.000)" x="0.19 5.06 13.20 21.28 29.31 37.36 41.37 45.42 53.50 61.59 69.87 73.00 80.97 88.54"><tspan class="p" dy="-1.10">(</tspan><tspan dy="1.10">1970, duplex</tspan><tspan class="p" dy="-1.10">)</tspan></text>
<text transform="translate(567.00,694.60) rotate(-90) scale(1.092,1.000)" x="0.19 5.04 13.16 21.23 29.24 37.28 41.28 45.41 57.82 61.17 68.25 76.21 84.30 88.82 93.31 101.46 105.22 112.28 115.62 123.69 131.96 135.19 142.28 149.81 154.01 162.12 174.53 178.07 181.60 189.15"><tspan class="p" dy="-1.10">(</tspan><tspan dy="1.10">1970, mixed th/single_family</tspan><tspan class="p" dy="-1.10">)</tspan></text>
<text transform="translate(573.00,669.35) rotate(-90) scale(1.070,1.000)" x="0.24 5.23 13.53 21.77 29.95 38.12 42.21 46.51 58.82 66.94 75.34 78.96 82.31 89.55 96.92 104.98 113.24 125.55 132.80 140.22 148.40 156.75 162.01 169.64"><tspan class="p" dy="-1.10">(</tspan><tspan dy="1.10">1970, mobile_home_park</tspan><tspan class="p" dy="-1.10">)</tspan></text>
<text transform="translate(579.00,628.72) rotate(-90) scale(1.084,1.000)" x="0.21 5.11 13.30 21.43 29.50 37.59 41.62 45.31 52.41 55.80 63.93 72.25 75.52 82.67 90.24 94.49 102.68 115.15 118.73 122.29 129.90"><tspan class="p" dy="-1.10">(</tspan><tspan dy="1.10">1970, single_family</tspan><tspan class="p" dy="-1.10">)</tspan></text>
<text transform="translate(586.00,661.97) rotate(-90) scale(1.072,1.000)" x="0.23 5.21 13.49 21.71 29.87 38.02 42.10 45.84 53.00 56.45 64.67 73.05 76.39 83.61 91.24 95.56 103.86 116.42 120.04 123.66 130.37 137.65 145.81 154.03 162.35"><tspan class="p" dy="-1.10">(</tspan><tspan dy="1.10">1970, single_family_adu</tspan><tspan class="p" dy="-1.10">)</tspan></text>
<text transform="translate(592.00,618.10) rotate(-90) scale(1.083,1.000)" x="0.21 5.11 13.31 21.44 29.52 37.61 41.65 46.21 50.64 58.60 69.10 77.18 85.14 93.28 105.45 113.08 120.16"><tspan class="p" dy="-1.10">(</tspan><tspan dy="1.10">1970, townhomes</tspan><tspan class="p" dy="-1.10">)</tspan></text>
<text transform="translate(598.00,611.35) rotate(-90) scale(1.108,1.000)" x="0.15 4.91 12.91 20.92 28.87 36.82 40.77 44.61 52.50 60.39 68.51 73.99 78.50 90.45 98.23 106.69 111.30"><tspan class="p" dy="-1.10">(</tspan><tspan dy="1.10">1980, apartment</tspan><tspan class="p" dy="-1.10">)</tspan></text>
<text transform="translate(604.00,579.97) rotate(-90) scale(1.079,1.000)" x="0.22 5.15 13.37 21.59 29.75 37.87 41.92 45.86 52.92 60.91 69.07 77.12 85.27"><tspan class="p" dy="-1.10">(</tspan><tspan dy="1.10">1980, condo</tspan><tspan class="p" dy="-1.10">)</tspan></text>
<text transform="translate(610.00,584.60) rotate(-90) scale(1.091,1.000)" x="0.19 5.04 13.18 21.31 29.38 37.43 41.43 45.47 53.55 61.62 69.90 73.02 80.98 88.55"><tspan class="p" dy="-1.10">(</tspan><tspan dy="1.10">1980, duplex</tspan><tspan class="p" dy="-1.10">)</tspan></text>
<text transform="translate(616.00,694.72) rotate(-90) scale(1.093,1.000)" x="0.18 5.03 13.15 21.27 29.33 37.37 41.37 45.49 57.90 61.25 68.33 76.27 84.37 88.88 93.37 101.52 105.27 112.33 115.67 123.73 132.00 135.22 142.31 149.83 154.03 162.13 174.54 178.08 181.60 189.15"><tspan class="p" dy="-1.10">(</tspan><tspan dy="1.10">1980, mixed th/single_family</tspan><tspan class="p" dy="-1.10">)</tspan></text>
<text transform="translate(622.00,669.47) rotate(-90) scale(1.070,1.000)" x="0.24 5.23 13.52 21.81 30.04 38.21 42.29 46.59 58.89 67.01 75.40 79.02 82.37 89.61 96.97 105.02 113.28 125.58 132.82 140.24 148.41 156.76 162.02 169.65"><tspan class="p" dy="-1.10">(</tspan><tspan dy="1.10">1980, mobile_home_park</tspan><tspan class="p" dy="-1.10">)</tspan></text>
<text transform="translate(628.00,628.85) rotate(-90) scale(1.085,1.000)" x="0.20 5.10 13.28 21.46 29.59 37.67 41.70 45.38 52.48 55.86 63.99 72.30 75.57 82.71 90.27 94.52 102.70 115.17 118.74 122.30 129.90"><tspan class="p" dy="-1.10">(</tspan><tspan dy="1.10">1980, single_family</tspan><tspan class="p" dy="-1.10">)</tspan></text>
<text transform="translate(634.00,662.10) rotate(-90) scale(1.073,1.000)" x="0.23 5.20 13.47 21.75 29.96 38.11 42.19 45.92 53.08 56.52 64.74 73.12 76.45 83.67 91.29 95.61 103.90 116.46 120.07 123.69 130.39 137.67 145.83 154.04 162.35"><tspan class="p" dy="-1.10">(</tspan><tspan dy="1.10">1980, single_family_adu</tspan><tspan class="p" dy="-1.10">)</tspan></text>
<text transform="translate(640.00,618.22) rotate(-90) scale(1.084,1.000)" x="0.21 5.11 13.29 21.48 29.61 37.69 41.73 46.28 50.70 58.66 69.15 77.22 85.18 93.30 105.47 113.08 120.17"><tspan class="p" dy="-1.10">(</tspan><tspan dy="1.10">1980, townhomes</tspan><tspan class="p" dy="-1.10">)</tspan></text>
<text transform="translate(647.00,611.35) rotate(-90) scale(1.108,1.000)" x="0.15 4.91 12.91 20.92 28.87 36.82 40.77 44.61 52.50 60.39 68.51 73.99 78.50 90.45 98.23 106.69 111.30"><tspan class="p" dy="-1.10">(</tspan><tspan dy="1.10">1990, apartment</tspan><tspan class="p" dy="-1.10">)</tspan></text>
<text transform="translate(653.00,579.97) rotate(-90) scale(1.079,1.000)" x="0.22 5.15 13.37 21.59 29.75 37.87 41.92 45.86 52.92 60.91 69.07 77.12 85.27"><tspan class="p" dy="-1.10">(</tspan><tspan dy="1.10">1990, condo</tspan><tspan class="p" dy="-1.10">)</tspan></text>
<text transform="translate(659.00,584.60) rotate(-90) scale(1.091,1.000)" x="0.19 5.04 13.18 21.31 29.38 37.43 41.43 45.47 53.55 61.62 69.90 73.02 80.98 88.55"><tspan class="p" dy="-1.10">(</tspan><tspan dy="1.10">1990, duplex</tspan><tspan class="p" dy="-1.10">)</tspan></text>
<text transform="translate(665.00,694.72) rotate(-90) scale(1.093,1.000)" x="0.18 5.03 13.15 21.27 29.33 37.37 41.37 45.49 57.90 61.25 68.33 76.27 84.37 88.88 93.37 101.52 105.27 112.33 115.67 123.73 132.00 135.22 142.31 149.83 154.03 162.13 174.54 178.08 181.60 189.15"><tspan class="p" dy="-1.10">(</tspan><tspan dy="1.10">1990, mixed th/single_family</tspan><tspan class="p" dy="-1.10">)</tspan></text>
<text transform="translate(671.00,669.47) rotate(-90) scale(1.070,1.000)" x="0.24 5.23 13.52 21.81 30.04 38.21 42.29 46.59 58.89 67.01 75.40 79.02 82.37 89.61 96.97 105.02 113.28 125.58 132.82 140.24 148.41 156.76 162.02 169.65"><tspan class="p" dy="-1.10">(</tspan><tspan dy="1.10">1990, mobile_home_park</tspan><tspan class="p" dy="-1.10">)</tspan></text>
<text transform="translate(677.00,628.85) rotate(-90) scale(1.085,1.000)" x="0.20 5.10 13.28 21.46 29.59 37.67 41.70 45.38 52.48 55.86 63.99 72.30 75.57 82.71 90.27 94.52 102.70 115.17 118.74 122.30 129.90"><tspan class="p" dy="-1.10">(</tspan><tspan dy="1.10">1990, single_family</tspan><tspan class="p" dy="-1.10">)</tspan></text>
<text transform="translate(683.00,662.10) rotate(-90) scale(1.073,1.000)" x="0.23 5.20 13.47 21.75 29.96 38.11 42.19 45.92 53.08 56.52 64.74 73.12 76.45 83.67 91.29 95.61 103.90 116.46 120.07 123.69 130.39 137.67 145.83 154.04 162.35"><tspan class="p" dy="-1.10">(</tspan><tspan dy="1.10">1990, single_family_adu</tspan><tspan class="p" dy="-1.10">)</tspan></text>
<text transform="translate(689.00,618.22) rotate(-90) scale(1.084,1.000)" x="0.21 5.11 13.29 21.48 29.61 37.69 41.73 46.28 50.70 58.66 69.15 77.22 85.18 93.30 105.47 113.08 120.17"><tspan class="p" dy="-1.10">(</tspan><tspan dy="1.10">1990, townhomes</tspan><tspan class="p" dy="-1.10">)</tspan></text>
<text transform="translate(695.00,610.97) rotate(-90) scale(1.105,1.000)" x="0.16 4.88 12.79 20.71 28.63 36.60 40.56 44.41 52.33 60.24 68.38 73.87 78.41 90.39 98.19 106.67 111.29"><tspan class="p" dy="-1.10">(</tspan><tspan dy="1.10">2000, apartment</tspan><tspan class="p" dy="-1.10">)</tspan></text>
<text transform="translate(701.00,579.60) rotate(-90) scale(1.075,1.000)" x="0.23 5.12 13.26 21.40 29.54 37.67 41.74 45.70 52.79 60.81 69.00 77.08 85.26"><tspan class="p" dy="-1.10">(</tspan><tspan dy="1.10">2000, condo</tspan><tspan class="p" dy="-1.10">)</tspan></text>
<text transform="translate(708.00,584.22) rotate(-90) scale(1.087,1.000)" x="0.20 5.02 13.07 21.11 29.16 37.23 41.25 45.31 53.41 61.52 69.82 72.96 80.95 88.54"><tspan class="p" dy="-1.10">(</tspan><tspan dy="1.10">2000, duplex</tspan><tspan class="p" dy="-1.10">)</tspan></text>
<text transform="translate(714.00,694.35) rotate(-90) scale(1.091,1.000)" x="0.19 4.99 13.01 21.03 29.05 37.09 41.10 45.24 57.66 61.02 68.11 76.07 84.17 88.70 93.20 101.36 105.12 112.19 115.54 123.61 131.89 135.12 142.23 149.76 153.97 162.09 174.51 178.06 181.59 189.15"><tspan class="p" dy="-1.10">(</tspan><tspan dy="1.10">2000, mixed th/single_family</tspan><tspan class="p" dy="-1.10">)</tspan></text>
<text transform="translate(720.00,669.10) rotate(-90) scale(1.068,1.000)" x="0.24 5.19 13.38 21.57 29.76 37.94 42.03 46.35 58.67 66.80 75.21 78.83 82.19 89.44 96.82 104.89 113.17 125.49 132.74 140.18 148.37 156.73 162.00 169.64"><tspan class="p" dy="-1.10">(</tspan><tspan dy="1.10">2000, mobile_home_park</tspan><tspan class="p" dy="-1.10">)</tspan></text>
<text transform="translate(726.00,628.47) rotate(-90) scale(1.082,1.000)" x="0.21 5.07 13.15 21.24 29.33 37.43 41.47 45.16 52.27 55.67 63.81 72.14 75.42 82.59 90.16 94.43 102.63 115.12 118.70 122.28 129.89"><tspan class="p" dy="-1.10">(</tspan><tspan dy="1.10">2000, single_family</tspan><tspan class="p" dy="-1.10">)</tspan></text>
<text transform="translate(732.00,661.72) rotate(-90) scale(1.071,1.000)" x="0.24 5.16 13.34 21.51 29.68 37.84 41.93 45.68 52.84 56.30 64.53 72.92 76.26 83.50 91.14 95.47 103.78 116.35 119.97 123.61 130.32 137.62 145.79 154.02 162.35"><tspan class="p" dy="-1.10">(</tspan><tspan dy="1.10">2000, single_family_adu</tspan><tspan class="p" dy="-1.10">)</tspan></text>
<text transform="translate(738.00,617.85) rotate(-90) scale(1.081,1.000)" x="0.21 5.07 13.17 21.26 29.35 37.45 41.50 46.07 50.51 58.49 69.01 77.10 85.08 93.23 105.42 113.06 120.16"><tspan class="p" dy="-1.10">(</tspan><tspan dy="1.10">2000, townhomes</tspan><tspan class="p" dy="-1.10">)</tspan></text>
<text transform="translate(744.00,611.10) rotate(-90) scale(1.106,1.000)" x="0.15 4.87 12.78 20.74 28.71 36.67 40.63 44.47 52.38 60.29 68.42 73.91 78.44 90.41 98.21 106.68 111.29"><tspan class="p" dy="-1.10">(</tspan><tspan dy="1.10">2010, apartment</tspan><tspan class="p" dy="-1.10">)</tspan></text>
<text transform="translate(750.00,579.72) rotate(-90) scale(1.077,1.000)" x="0.22 5.11 13.24 21.42 29.61 37.74 41.80 45.75 52.83 60.84 69.03 77.10 85.27"><tspan class="p" dy="-1.10">(</tspan><tspan dy="1.10">2010, condo</tspan><tspan class="p" dy="-1.10">)</tspan></text>
<text transform="translate(756.00,584.35) rotate(-90) scale(1.089,1.000)" x="0.19 5.01 13.05 21.14 29.23 37.29 41.31 45.36 53.46 61.55 69.85 72.98 80.96 88.54"><tspan class="p" dy="-1.10">(</tspan><tspan dy="1.10">2010, duplex</tspan><tspan class="p" dy="-1.10">)</tspan></text>
<text transform="translate(763.00,694.47) rotate(-90) scale(1.092,1.000)" x="0.19 4.98 13.00 21.07 29.14 37.18 41.19 45.32 57.74 61.09 68.18 76.14 84.24 88.76 93.25 101.41 105.17 112.24 115.58 123.65 131.93 135.16 142.26 149.78 153.99 162.10 174.52 178.07 181.59 189.15"><tspan class="p" dy="-1.10">(</tspan><tspan dy="1.10">2010, mixed th/single_family</tspan><tspan class="p" dy="-1.10">)</tspan></text>
<text transform="translate(769.00,669.22) rotate(-90) scale(1.069,1.000)" x="0.24 5.18 13.37 21.61 29.86 38.03 42.12 46.43 58.74 66.87 75.27 78.90 82.25 89.50 96.87 104.94 113.21 125.52 132.77 140.20 148.38 156.74 162.01 169.64"><tspan class="p" dy="-1.10">(</tspan><tspan dy="1.10">2010, mobile_home_park</tspan><tspan class="p" dy="-1.10">)</tspan></text>
<text transform="translate(775.00,628.60) rotate(-90) scale(1.083,1.000)" x="0.21 5.06 13.14 21.28 29.42 37.51 41.55 45.23 52.34 55.73 63.87 72.20 75.47 82.63 90.20 94.46 102.65 115.14 118.71 122.29 129.89"><tspan class="p" dy="-1.10">(</tspan><tspan dy="1.10">2010, single_family</tspan><tspan class="p" dy="-1.10">)</tspan></text>
<text transform="translate(781.00,661.85) rotate(-90) scale(1.071,1.000)" x="0.24 5.16 13.32 21.55 29.77 37.93 42.01 45.76 52.92 56.37 64.60 72.99 76.33 83.56 91.19 95.52 103.82 116.39 120.01 123.64 130.34 137.63 145.80 154.03 162.35"><tspan class="p" dy="-1.10">(</tspan><tspan dy="1.10">2010, single_family_adu</tspan><tspan class="p" dy="-1.10">)</tspan></text>
<text transform="translate(787.00,617.97) rotate(-90) scale(1.082,1.000)" x="0.21 5.07 13.15 21.29 29.44 37.53 41.58 46.14 50.57 58.54 69.06 77.14 85.11 93.25 105.44 113.07 120.16"><tspan class="p" dy="-1.10">(</tspan><tspan dy="1.10">2010, townhomes</tspan><tspan class="p" dy="-1.10">)</tspan></text>
<text transform="translate(793.00,610.97) rotate(-90) scale(1.105,1.000)" x="0.16 4.88 12.79 20.71 28.63 36.60 40.56 44.41 52.33 60.24 68.38 73.87 78.41 90.39 98.19 106.67 111.29"><tspan class="p" dy="-1.10">(</tspan><tspan dy="1.10">2020, apartment</tspan><tspan class="p" dy="-1.10">)</tspan></text>
<text transform="translate(799.00,579.60) rotate(-90) scale(1.075,1.000)" x="0.23 5.12 13.26 21.40 29.54 37.67 41.74 45.70 52.79 60.81 69.00 77.08 85.26"><tspan class="p" dy="-1.10">(</tspan><tspan dy="1.10">2020, condo</tspan><tspan class="p" dy="-1.10">)</tspan></text>
<text transform="translate(805.00,584.22) rotate(-90) scale(1.087,1.000)" x="0.20 5.02 13.07 21.11 29.16 37.23 41.25 45.31 53.41 61.52 69.82 72.96 80.95 88.54"><tspan class="p" dy="-1.10">(</tspan><tspan dy="1.10">2020, duplex</tspan><tspan class="p" dy="-1.10">)</tspan></text>
<text transform="translate(811.00,618.85) rotate(-90) scale(1.068,1.000)" x="0.24 5.18 13.37 21.56 29.75 37.93 42.02 46.29 49.64 57.73 67.54 75.07 78.54 86.61 93.75 102.02 114.34 122.56"><tspan class="p" dy="-1.10">(</tspan><tspan dy="1.10">2020, low_income</tspan><tspan class="p" dy="-1.10">)</tspan></text>
<text transform="translate(817.00,694.35) rotate(-90) scale(1.091,1.000)" x="0.19 4.99 13.01 21.03 29.05 37.09 41.10 45.24 57.66 61.02 68.11 76.07 84.17 88.70 93.20 101.36 105.12 112.19 115.54 123.61 131.89 135.12 142.23 149.76 153.97 162.09 174.51 178.06 181.59 189.15"><tspan class="p" dy="-1.10">(</tspan><tspan dy="1.10">2020, mixed th/single_family</tspan><tspan class="p" dy="-1.10">)</tspan></text>
<text transform="translate(824.00,669.10) rotate(-90) scale(1.068,1.000)" x="0.24 5.19 13.38 21.57 29.76 37.94 42.03 46.35 58.67 66.80 75.21 78.83 82.19 89.44 96.82 104.89 113.17 125.49 132.74 140.18 148.37 156.73 162.00 169.64"><tspan class="p" dy="-1.10">(</tspan><tspan dy="1.10">2020, mobile_home_park</tspan><tspan class="p" dy="-1.10">)</tspan></text>
<text transform="translate(830.00,628.47) rotate(-90) scale(1.082,1.000)" x="0.21 5.07 13.15 21.24 29.33 37.43 41.47 45.16 52.27 55.67 63.81 72.14 75.42 82.59 90.16 94.43 102.63 115.12 118.70 122.28 129.89"><tspan class="p" dy="-1.10">(</tspan><tspan dy="1.10">2020, single_family</tspan><tspan class="p" dy="-1.10">)</tspan></text>
<text transform="translate(836.00,661.72) rotate(-90) scale(1.071,1.000)" x="0.24 5.16 13.34 21.51 29.68 37.84 41.93 45.68 52.84 56.30 64.53 72.92 76.26 83.50 91.14 95.47 103.78 116.35 119.97 123.61 130.32 137.62 145.79 154.02 162.35"><tspan class="p" dy="-1.10">(</tspan><tspan dy="1.10">2020, single_family_adu</tspan><tspan class="p" dy="-1.10">)</tspan></text>
<text transform="translate(842.00,610.72) rotate(-90) scale(1.088,1.000)" x="0.20 5.02 13.06 21.11 29.15 37.22 41.24 45.78 50.18 58.11 68.57 76.61 84.54 92.63 104.77 112.88"><tspan class="p" dy="-1.10">(</tspan><tspan dy="1.10">2020, townhome</tspan><tspan class="p" dy="-1.10">)</tspan></text>
<text transform="translate(848.00,617.85) rotate(-90) scale(1.081,1.000)" x="0.21 5.07 13.17 21.26 29.35 37.45 41.50 46.07 50.51 58.49 69.01 77.10 85.08 93.23 105.42 113.06 120.16"><tspan class="p" dy="-1.10">(</tspan><tspan dy="1.10">2020, townhomes</tspan><tspan class="p" dy="-1.10">)</tspan></text>
</g>
<text transform="translate(382.41,709.64) scale(0.930,1)" x="0.31 9.45 16.79 25.52 33.86 44.75 54.30 65.05 75.54 86.43 96.33 100.55 110.30 121.33 131.49 140.15 149.16 158.37">BLT_DECADE,SUBTYPE</text>
</svg></body></html>
